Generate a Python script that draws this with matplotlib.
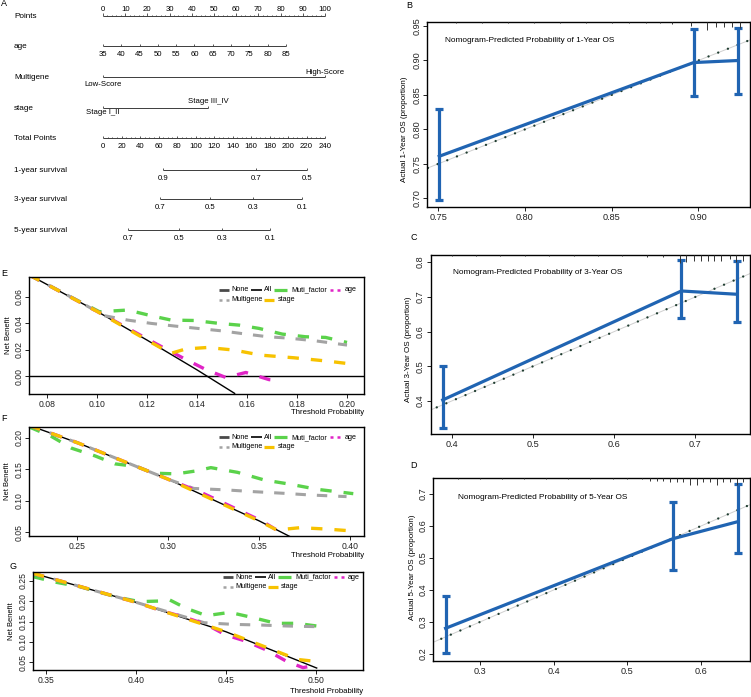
import numpy as np
import matplotlib
matplotlib.use('Agg')
import matplotlib.pyplot as plt
from matplotlib.font_manager import FontProperties
from matplotlib.textpath import TextToPath

# ------------------------------------------------------------------ fonts
NUM = 'Liberation Sans'
WORD_FP = FontProperties(family=['Liberation Sans', 'DejaVu Sans'])
plt.rcParams['font.family'] = ['Liberation Sans', 'DejaVu Sans']
_t2p = TextToPath()


def fit_size(s, target_px, stretch=1.14):
    """Font size (pt) so that string s is about target_px wide (slightly enlarged,
    because the original uses a narrow typeface)."""
    p = WORD_FP.copy()
    p.set_size(10)
    w, h, d = _t2p.get_text_width_height_descent(s, p, ismath=False)
    return 10 * target_px / (w * 100 / 72) * stretch


def wfp(size):
    p = WORD_FP.copy()
    p.set_size(size)
    return p


# ------------------------------------------------------------------ data
# Nomogram (A)
points_ticks = list(range(0, 101, 10))
age_ticks = [35, 40, 45, 50, 55, 60, 65, 70, 75, 80, 85]
age_points_span = [0.0, 82.4]          # points for age 35 and age 85
multigene_levels = ['Low-Score', 'High-Score']
multigene_points = [0.0, 100.0]
stage_levels = ['Stage I_II', 'Stage III_IV']
stage_points = [0.0, 47.3]
total_ticks = list(range(0, 241, 20))
surv1_labels = ['0.9', '0.7', '0.5']
surv1_total = [64.9, 165.4, 220.5]
surv3_labels = ['0.7', '0.5', '0.3', '0.1']
surv3_total = [61.6, 115.7, 162.2, 215.1]
surv5_labels = ['0.7', '0.5', '0.3', '0.1']
surv5_total = [27.0, 82.2, 128.6, 180.5]

# Calibration (B, C, D)
cal1_pred = [0.7506, 0.8973, 0.9230]
cal1_obs = [0.761, 0.897, 0.900]
cal1_lo = [0.697, 0.849, 0.852]
cal1_hi = [0.830, 0.945, 0.947]
cal1_rug = [0.760, 0.775, 0.790, 0.805, 0.820, 0.835, 0.850, 0.860, 0.870, 0.878, 0.885,
            0.8956, 0.9049, 0.9102, 0.9146, 0.9194, 0.9242]
cal1_rug_len = [1, 1, 1, 1, 1, 1, 1, 1, 1.5, 1.5, 2, 4, 8, 5, 5, 5, 6]

cal3_pred = [0.389, 0.6826, 0.7514]
cal3_obs = [0.403, 0.717, 0.7075]
cal3_lo = [0.323, 0.638, 0.627]
cal3_hi = [0.501, 0.806, 0.804]
cal3_rug = [0.40, 0.43, 0.46, 0.49, 0.52, 0.55, 0.58, 0.61, 0.64, 0.66,
            0.6805, 0.6887, 0.6977, 0.7071, 0.7152, 0.7234, 0.7317, 0.7419, 0.7493, 0.7583]
cal3_rug_len = [1, 1, 1, 1, 1, 1, 1, 1, 1.5, 1.5, 8, 7, 6, 6, 6, 6, 6, 4, 7, 6]

cal5_pred = [0.2534, 0.5616, 0.6498]
cal5_obs = [0.2803, 0.5600, 0.6134]
cal5_lo = [0.2022, 0.4625, 0.5147]
cal5_hi = [0.3812, 0.6760, 0.7303]
cal5_rug = [0.27, 0.30, 0.33, 0.36, 0.39, 0.42, 0.45, 0.48, 0.50, 0.52,
            0.5308, 0.5398, 0.5489, 0.5579, 0.5670, 0.5760, 0.5851, 0.5941, 0.6032,
            0.6122, 0.6213, 0.6303, 0.6394, 0.6484, 0.6575]
cal5_rug_len = [1, 1, 1, 1, 1, 1, 1, 1.5, 1.5, 1.5,
                3, 3, 3, 4, 4, 4, 7, 7, 4, 4, 7, 4, 4, 7, 4]

# Decision curves (E, F, G)
E_all_x = [0.0728, 0.100, 0.120, 0.140, 0.155]
E_all_y = [0.0765, 0.0489, 0.0272, 0.0047, -0.0130]
E_mf_x = [0.0728, 0.090, 0.1009, 0.1122, 0.1216, 0.1296, 0.1388, 0.1488, 0.1568, 0.1648, 0.1741, 0.1834, 0.1914, 0.2000]
E_mf_y = [0.0765, 0.0593, 0.0487, 0.0500, 0.0457, 0.0424, 0.0421, 0.0399, 0.0386, 0.0361, 0.0318, 0.0298, 0.0293, 0.0255]
E_mg_x = [0.0728, 0.090, 0.1029, 0.1122, 0.1216, 0.1310, 0.1403, 0.1496, 0.1596, 0.1683, 0.1763, 0.1870, 0.2000]
E_mg_y = [0.0765, 0.0593, 0.0457, 0.0424, 0.0399, 0.0379, 0.0361, 0.0343, 0.0318, 0.0298, 0.0288, 0.0268, 0.0235]
E_st_x = [0.0728, 0.100, 0.120, 0.1294, 0.1355, 0.1442, 0.1549, 0.1655, 0.1788, 0.1921, 0.2000]
E_st_y = [0.0765, 0.0489, 0.0272, 0.0172, 0.0206, 0.0217, 0.0197, 0.0159, 0.0139, 0.0114, 0.0096]
E_age_x = [0.0728, 0.100, 0.1189, 0.1275, 0.1355, 0.1435, 0.1515, 0.1595, 0.1688, 0.1710]
E_age_y = [0.0765, 0.0489, 0.0293, 0.0205, 0.0126, 0.0050, -0.0010, 0.0028, -0.0026, -0.0030]

F_all_x = [0.2235, 0.25, 0.30, 0.35, 0.367]
F_all_y = [0.2195, 0.192, 0.134, 0.068, 0.043]
F_mf_x = [0.2235, 0.2358, 0.2468, 0.2596, 0.2706, 0.2826, 0.2917, 0.3045, 0.3156, 0.3234, 0.3381, 0.3528, 0.3674, 0.3821, 0.4018]
F_mf_y = [0.2170, 0.2018, 0.1833, 0.1712, 0.1585, 0.1543, 0.1437, 0.1426, 0.1474, 0.1525, 0.1450, 0.1329, 0.1260, 0.1180, 0.1112]
F_mg_x = [0.2235, 0.25, 0.30, 0.314, 0.3321, 0.3468, 0.3633, 0.3780, 0.3981]
F_mg_y = [0.2195, 0.192, 0.134, 0.1195, 0.1171, 0.1144, 0.1118, 0.1091, 0.1065]
F_st_x = [0.2235, 0.25, 0.30, 0.35, 0.3597, 0.3725, 0.3872, 0.4018]
F_st_y = [0.2195, 0.192, 0.134, 0.068, 0.0535, 0.0572, 0.0550, 0.0519]
F_age_x = [0.2235, 0.25, 0.30, 0.3174, 0.3293, 0.3403, 0.3513, 0.3596, 0.3615]
F_age_y = [0.2195, 0.192, 0.134, 0.114, 0.098, 0.083, 0.068, 0.0535, 0.0456]

G_all_x = [0.3426, 0.35, 0.40, 0.45, 0.5006]
G_all_y = [0.268, 0.259, 0.197, 0.125, 0.036]
G_mf_x = [0.3426, 0.3556, 0.3686, 0.3797, 0.3909, 0.4020, 0.4132, 0.4188, 0.4280, 0.4392, 0.4522, 0.4652, 0.4780, 0.4894, 0.5006]
G_mf_y = [0.2598, 0.2460, 0.2353, 0.2214, 0.2084, 0.1986, 0.2002, 0.2027, 0.1822, 0.1643, 0.1724, 0.1594, 0.1455, 0.1455, 0.1390]
G_mg_x = [0.3426, 0.35, 0.40, 0.438, 0.454, 0.469, 0.4838, 0.5006]
G_mg_y = [0.268, 0.259, 0.197, 0.147, 0.143, 0.1414, 0.139, 0.1373]
G_st_x = [0.3426, 0.35, 0.40, 0.45, 0.49, 0.5006]
G_st_y = [0.268, 0.259, 0.197, 0.125, 0.057, 0.052]
G_age_x = [0.3426, 0.35, 0.40, 0.413, 0.428, 0.439, 0.450, 0.461, 0.4727, 0.484, 0.493, 0.5006]
G_age_y = [0.268, 0.259, 0.197, 0.178, 0.159, 0.143, 0.117, 0.102, 0.080, 0.052, 0.037, 0.0435]

legend_labels = ['None', 'All', 'Muti_factor', 'age', 'Multigene', 'stage']

# ------------------------------------------------------------------ sizes
S_LEG = fit_size('Muti_factor', 32, 1.12)
S_XLAB = fit_size('Threshold Probability', 62, 1.18)
S_TITLE = fit_size('Nomogram-Predicted Probability of 1-Year OS', 140, 1.2)
S_CALY = fit_size('Actual 1-Year OS (proportion)', 88, 1.2)
S_NB = fit_size('Net Benefit', 31, 1.2)
S_NOM = fit_size('Total Points', 35.3, 1.2)
S_LEV = fit_size('Stage III_IV', 34, 1.2)
NUM_DCA = 6.2
NUM_CAL = 6.6
NUM_NOM = 5.6

# ------------------------------------------------------------------ style
W, H = 751, 697
fig = plt.figure(figsize=(W / 100, H / 100), dpi=100)
BLUE = '#2064B2'
GREEN = '#5BD24B'
GREY = '#A3A3A3'
YELLOW = '#F7C200'
MAGENTA = '#E024C6'


def axes_px(l, t, r, b):
    return fig.add_axes([l / W, 1 - b / H, (r - l) / W, (b - t) / H])


def letter(x, y, s):
    fig.text(x / W, 1 - y / H, s, fontsize=6.5, family=NUM, ha='center', va='center')


# ------------------------------------------------------------------ A: nomogram
axA = axes_px(0, 0, 345, 250)
PX0, PXS = 103.0, 2.22
axA.set_xlim(-PX0 / PXS, (345 - PX0) / PXS)
axA.set_ylim(250, 0)
axA.axis('off')
LC = '#3c3c3c'
LABX = (14 - PX0) / PXS


def nline(y, p0, p1):
    axA.plot([p0, p1], [y, y], color=LC, lw=0.7, solid_capstyle='butt')


def nticks(y, pos, ln):
    axA.vlines(pos, y - ln, y, color=LC, lw=0.6)


def nnum(x, y, s):
    axA.text(x, y, s, fontsize=NUM_NOM, family=NUM, ha='center', va='center')


def nword(x, y, s, size, ha='center'):
    axA.text(x, y, s, fontproperties=wfp(size), ha=ha, va='center')


def rowlabel(y, s):
    nword(LABX, y + 0.5, s, S_NOM, ha='left')


# Points
y = 16
nline(y, 0, 100)
nticks(y, points_ticks, 2.8)
nticks(y, [p for p in range(0, 101, 2) if p % 10], 1.5)
for p in points_ticks:
    nnum(p, y - 6.7, str(p))
rowlabel(y, 'Points')

# age
y = 46
age_pts = np.interp(age_ticks, [age_ticks[0], age_ticks[-1]], age_points_span)
nline(y, age_pts[0], age_pts[-1])
nticks(y, age_pts, 2.5)
for a, p in zip(age_ticks, age_pts):
    nnum(p, y + 8.2, str(a))
rowlabel(y, 'age')

# Multigene
y = 77.3
nline(y, multigene_points[0], multigene_points[1])
nticks(y, multigene_points, 2.5)
nword(multigene_points[0], y + 6.8, multigene_levels[0], S_LEV)
nword(multigene_points[1], y - 4.8, multigene_levels[1], S_LEV)
rowlabel(y, 'Multigene')

# stage
y = 108.3
nline(y, stage_points[0], stage_points[1])
nticks(y, stage_points, 2.5)
nword(stage_points[0], y + 4.6, stage_levels[0], S_LEV)
nword(stage_points[1], y - 6.6, stage_levels[1], S_LEV)
rowlabel(y, 'stage')

# Total Points
TSC = 100.0 / 240.0
y = 138.3
nline(y, 0, 240 * TSC)
nticks(y, [t * TSC for t in total_ticks], 2.6)
nticks(y, [t * TSC for t in range(0, 241, 5) if t % 20], 1.4)
for t in total_ticks:
    nnum(t * TSC, y + 8.4, str(t))
rowlabel(y, 'Total Points')

for y, labs, tots, name in [(170, surv1_labels, surv1_total, '1-year survival'),
                            (199.3, surv3_labels, surv3_total, '3-year survival'),
                            (230.0, surv5_labels, surv5_total, '5-year survival')]:
    pp = [t * TSC for t in tots]
    nline(y, min(pp), max(pp))
    nticks(y, pp, 2.5)
    for l, p in zip(labs, pp):
        nnum(p, y + 8.3, l)
    rowlabel(y, name)

letter(4, 3.5, 'A')


# ------------------------------------------------------------------ B, C, D: calibration
def style_axes(ax, numsize):
    for s in ax.spines.values():
        s.set_linewidth(1.0)
        s.set_color('black')
    ax.tick_params(direction='out', length=3, width=0.7, pad=1.2,
                   labelsize=numsize, labelfontfamily=NUM, colors='#222222')
    for lab in ax.get_yticklabels():
        lab.set_rotation(90)
        lab.set_va('center')


def calib(box, pred, obs, lo, hi, xlim, ylim, xt, xtl, yt, ytl, title, tpos,
          ylabel, ylab_px, rug, rug_len):
    l, t, r, b = box
    hpx, wpx = b - t, r - l
    ax = axes_px(*box)
    ax.set_xlim(xlim)
    ax.set_ylim(ylim)
    lo_ = min(xlim[0], ylim[0]) - 0.1
    hi_ = max(xlim[1], ylim[1]) + 0.1
    ax.plot([lo_, hi_], [lo_, hi_], color='#cfcfcf', lw=0.7, zorder=1)
    ax.plot([lo_, hi_], [lo_, hi_], color='#1f3d30', lw=1.7,
            linestyle=(0, (0.01, 4.4)), dash_capstyle='round', zorder=2)
    obs = np.asarray(obs)
    ax.errorbar(pred, obs, yerr=[obs - np.asarray(lo), np.asarray(hi) - obs],
                color=BLUE, lw=2.3, elinewidth=2.3, capsize=2.8, capthick=2.3, zorder=3)
    ax.vlines(rug, 1 - np.asarray(rug_len) / hpx, 1, transform=ax.get_xaxis_transform(),
              color='#333333', lw=0.7, zorder=4)
    ax.set_xticks(xt)
    ax.set_xticklabels(xtl)
    ax.set_yticks(yt)
    ax.set_yticklabels(ytl)
    style_axes(ax, NUM_CAL)
    ax.text(tpos[0], tpos[1], title, transform=ax.transAxes,
            fontproperties=wfp(S_TITLE), ha='left', va='center')
    ax.set_ylabel(ylabel, fontproperties=wfp(S_CALY))
    ax.yaxis.label.set_va('center')
    ax.yaxis.set_label_coords((ylab_px[0] - l) / wpx, 1 - (ylab_px[1] - t) / hpx)
    return ax


calib((427.3, 21.7, 750, 206.7), cal1_pred, cal1_obs, cal1_lo, cal1_hi,
      (0.7437, 0.9298), (0.6878, 0.9563),
      [0.75, 0.80, 0.85, 0.90], ['0.75', '0.80', '0.85', '0.90'],
      [0.70, 0.75, 0.80, 0.85, 0.90, 0.95], ['0.70', '0.75', '0.80', '0.85', '0.90', '0.95'],
      'Nomogram-Predicted Probability of 1-Year OS', (0.056, 0.90),
      'Actual 1-Year OS (proportion)', (405, 129), cal1_rug, cal1_rug_len)
letter(409.3, 5, 'B')

calib((430.7, 255, 750, 434), cal3_pred, cal3_obs, cal3_lo, cal3_hi,
      (0.3742, 0.7671), (0.3049, 0.8207),
      [0.4, 0.5, 0.6, 0.7], ['0.4', '0.5', '0.6', '0.7'],
      [0.4, 0.5, 0.6, 0.7, 0.8], ['0.4', '0.5', '0.6', '0.7', '0.8'],
      'Nomogram-Predicted Probability of 3-Year OS', (0.07, 0.90),
      'Actual 3-Year OS (proportion)', (408, 349), cal3_rug, cal3_rug_len)
letter(413.3, 237.3, 'C')

calib((433.3, 477.7, 750, 660.7), cal5_pred, cal5_obs, cal5_lo, cal5_hi,
      (0.2367, 0.6665), (0.179, 0.7509),
      [0.3, 0.4, 0.5, 0.6], ['0.3', '0.4', '0.5', '0.6'],
      [0.2, 0.3, 0.4, 0.5, 0.6, 0.7], ['0.2', '0.3', '0.4', '0.5', '0.6', '0.7'],
      'Nomogram-Predicted Probability of 5-Year OS', (0.078, 0.89),
      'Actual 5-Year OS (proportion)', (413, 567), cal5_rug, cal5_rug_len)
letter(413.3, 465, 'D')


# ------------------------------------------------------------------ E, F, G: decision curves
def dca(box, xlim, ylim, xt, xtl, yt, ytl, allxy, series, leg_dy, ylab_x, xlab_dy):
    l, t, r, b = box
    hpx, wpx = b - t, r - l
    ax = axes_px(*box)
    ax.set_xlim(xlim)
    ax.set_ylim(ylim)
    ax.axhline(0, color='black', lw=1.0, zorder=1)
    ax.plot(allxy[0], allxy[1], color='black', lw=1.0, zorder=1)
    for (x, yv, c, lw) in series:
        ax.plot(x, yv, color=c, lw=lw, dashes=(3.4, 3.6), dash_capstyle='butt', zorder=2)
    ax.set_xticks(xt)
    ax.set_xticklabels(xtl)
    ax.set_yticks(yt)
    ax.set_yticklabels(ytl)
    style_axes(ax, NUM_DCA)
    ax.set_ylabel('Net Benefit', fontproperties=wfp(S_NB))
    ax.yaxis.label.set_va('center')
    ax.yaxis.set_label_coords((ylab_x - l) / wpx, 0.5)
    ax.set_xlabel('Threshold Probability', fontproperties=wfp(S_XLAB))
    ax.xaxis.label.set_ha('right')
    ax.xaxis.label.set_va('center')
    ax.xaxis.set_label_coords(1.0, -xlab_dy / hpx)

    # legend (pixel offsets from the axes top-left corner)
    def fx(px):
        return px / wpx

    def fy(py):
        return 1 - py / hpx

    r1, r2 = leg_dy
    items = [
        ((190, 200), r1, '#4a4a4a', 2.0, None, 202, legend_labels[0]),
        ((222, 233), r1, 'black', 1.2, None, 235, legend_labels[1]),
        ((245, 258), r1, GREEN, 2.3, None, 262, legend_labels[2]),
        ((301, 312), r1, MAGENTA, 1.8, (1.2, 1.6), 315, legend_labels[3]),
        ((190, 200), r2, GREY, 1.8, (1.2, 1.6), 202, legend_labels[4]),
        ((235, 245), r2, YELLOW, 2.3, None, 248, legend_labels[5]),
    ]
    for (x0, x1), ry, c, lw, dsh, tx, lab in items:
        kw = dict(color=c, lw=lw, transform=ax.transAxes, clip_on=False, solid_capstyle='butt')
        if dsh is not None:
            kw['dashes'] = dsh
            kw['dash_capstyle'] = 'butt'
        ax.plot([fx(x0), fx(x1)], [fy(ry), fy(ry)], **kw)
        ax.text(fx(tx), fy(ry), lab, transform=ax.transAxes,
                fontproperties=wfp(S_LEG), ha='left', va='center')
    return ax


dca((29.3, 276.7, 364, 394.3), (0.0728, 0.2068), (-0.0137, 0.0752),
    [0.08, 0.10, 0.12, 0.14, 0.16, 0.18, 0.20],
    ['0.08', '0.10', '0.12', '0.14', '0.16', '0.18', '0.20'],
    [0.00, 0.02, 0.04, 0.06], ['0.00', '0.02', '0.04', '0.06'],
    (E_all_x, E_all_y),
    [(E_mf_x, E_mf_y, GREEN, 2.4), (E_mg_x, E_mg_y, GREY, 2.2),
     (E_age_x, E_age_y, MAGENTA, 2.4), (E_st_x, E_st_y, YELLOW, 2.4)],
    (13, 23), 8.5, 18.5)
letter(4, 273.3, 'E')

dca((29.3, 427.3, 364, 536), (0.2235, 0.4077), (0.044, 0.2165),
    [0.25, 0.30, 0.35, 0.40], ['0.25', '0.30', '0.35', '0.40'],
    [0.05, 0.10, 0.15, 0.20], ['0.05', '0.10', '0.15', '0.20'],
    (F_all_x, F_all_y),
    [(F_mf_x, F_mf_y, GREEN, 2.4), (F_mg_x, F_mg_y, GREY, 2.2),
     (F_age_x, F_age_y, MAGENTA, 2.4), (F_st_x, F_st_y, YELLOW, 2.4)],
    (10, 19.5), 7.5, 19.5)
letter(4, 418.3, 'F')

dca((33, 571.7, 363, 670), (0.3426, 0.5264), (0.0312, 0.272),
    [0.35, 0.40, 0.45, 0.50], ['0.35', '0.40', '0.45', '0.50'],
    [0.05, 0.10, 0.15, 0.20, 0.25], ['0.05', '0.10', '0.15', '0.20', '0.25'],
    (G_all_x, G_all_y),
    [(G_mf_x, G_mf_y, GREEN, 2.4), (G_mg_x, G_mg_y, GREY, 2.2),
     (G_age_x, G_age_y, MAGENTA, 2.4), (G_st_x, G_st_y, YELLOW, 2.4)],
    (5.3, 15), 11.5, 21.5)
letter(12.7, 566.7, 'G')

fig.savefig('out.png', dpi=100)
